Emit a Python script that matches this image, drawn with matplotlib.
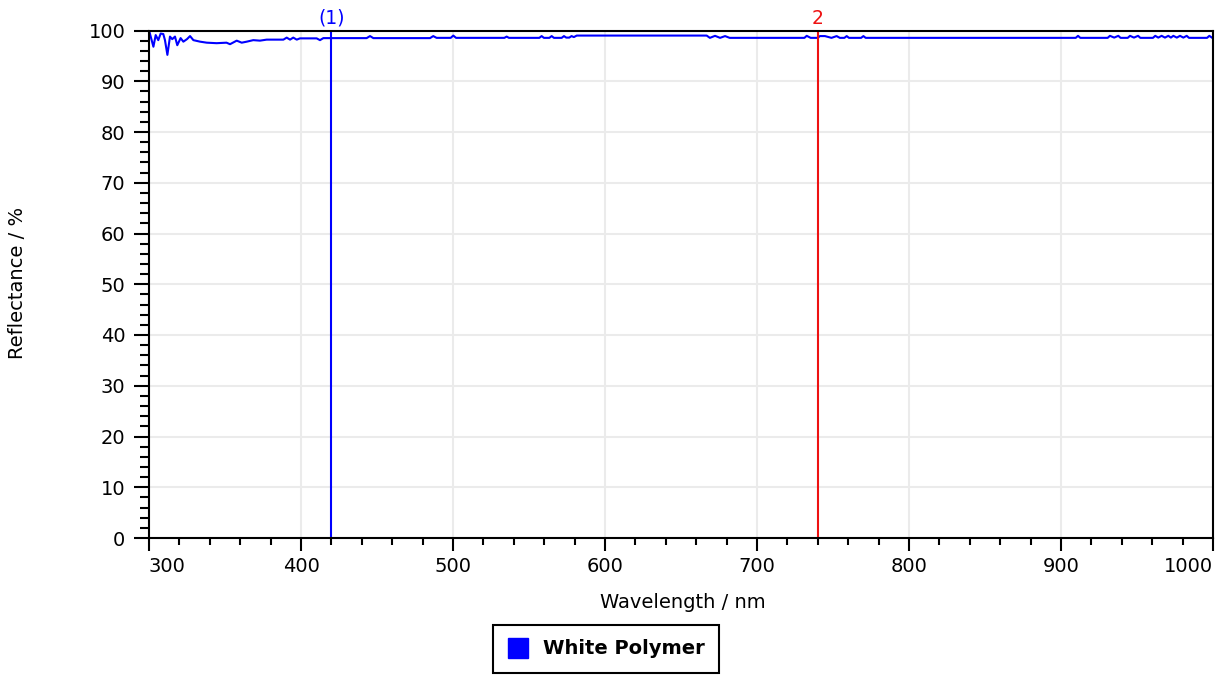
import matplotlib.pyplot as plt

# spectrum
wavelength = [
    300.5, 302.9, 304.4, 306.1, 307.7, 309.4, 310.5, 312.1, 313.8, 315.3,
    317.1, 318.6, 320.8, 322.6, 325.0, 327.0, 329.2, 333.6, 338.0, 344.5,
    351.0, 353.3, 357.7, 361.0, 364.3, 368.6, 373.0, 377.4, 388.4, 390.6,
    392.8, 394.9, 397.2, 399.3, 410.3, 412.5, 414.7, 443.2, 445.4, 447.6,
    484.9, 487.0, 489.2, 498.5, 500.2, 502.0, 533.8, 535.3, 536.8, 556.8,
    558.3, 559.8, 563.4, 564.9, 566.4, 571.5, 573.0, 574.5, 576.5, 578.0,
    579.5, 581.4, 666.9, 669.0, 672.4, 675.7, 679.0, 682.0, 731.2, 732.7,
    735.3, 739.9, 741.4, 744.7, 749.0, 752.4, 754.5, 757.5, 759.0, 760.5,
    768.5, 770.0, 771.5, 909.7, 911.2, 912.7, 930.7, 932.2, 935.0, 937.7,
    939.2, 943.9, 945.4, 948.0, 950.7, 952.2, 960.5, 962.0, 964.0, 966.2,
    968.4, 970.6, 972.3, 973.9, 976.2, 978.3, 980.5, 982.7, 984.2, 996.1,
    997.6, 999.5,
]
reflectance = [
    99.5, 96.8, 99.1, 98.1, 99.4, 99.3, 98.1, 95.2, 98.8, 98.3,
    98.8, 97.1, 98.5, 97.8, 98.3, 98.9, 98.1, 97.8, 97.6, 97.5,
    97.6, 97.3, 98.0, 97.6, 97.8, 98.1, 98.0, 98.2, 98.2, 98.6,
    98.2, 98.6, 98.2, 98.45, 98.45, 98.1, 98.5, 98.5, 98.9, 98.5,
    98.5, 98.9, 98.55, 98.55, 99.0, 98.55, 98.55, 98.8, 98.55, 98.55,
    98.9, 98.55, 98.55, 98.9, 98.55, 98.55, 98.9, 98.6, 98.6, 98.9,
    98.7, 99.0, 99.0, 98.55, 98.95, 98.55, 98.9, 98.55, 98.55, 98.95,
    98.55, 98.55, 98.9, 98.9, 98.55, 98.9, 98.55, 98.55, 98.9, 98.55,
    98.55, 98.9, 98.55, 98.55, 98.95, 98.55, 98.55, 98.95, 98.6, 98.95,
    98.55, 98.55, 98.95, 98.6, 98.95, 98.55, 98.55, 98.95, 98.6, 98.95,
    98.6, 98.95, 98.6, 98.95, 98.6, 98.95, 98.6, 98.95, 98.55, 98.55,
    98.95, 98.55,
]

markers = [420, 740]
marker_labels = ["(1)", "2"]
marker_colors = ["#0000ff", "#ee1111"]

x_ticks = [300, 400, 500, 600, 700, 800, 900, 1000]
y_ticks = [0, 10, 20, 30, 40, 50, 60, 70, 80, 90, 100]

plt.rcParams['font.family'] = ['DejaVu Sans']

fig = plt.figure(figsize=(12.19, 6.77), dpi=100)
ax = fig.add_axes([149 / 1219, 1 - 538 / 677, (1213 - 149) / 1219, (538 - 30.5) / 677])

ax.plot(wavelength, reflectance, color="#0000ff", linewidth=1.5, label="White Polymer")

for xm, lab, col in zip(markers, marker_labels, marker_colors):
    ax.axvline(xm, color=col, linewidth=1.5)
    ax.text(xm, 100.5, lab, color=col, ha="center", va="bottom", fontsize=13.5)

ax.set_xlim(300, 1000)
ax.set_ylim(0, 100)
ax.set_xticks(x_ticks)
ax.set_xticks(range(300, 1001, 20), minor=True)
ax.set_yticks(y_ticks)
ax.set_yticks(range(0, 101, 2), minor=True)

ax.grid(True, which="major", color="#ebebeb", linewidth=1.5)
ax.set_axisbelow(True)

for s in ax.spines.values():
    s.set_linewidth(1.5)

ax.tick_params(axis="y", which="major", length=11, width=1.5, pad=6, labelsize=14)
ax.tick_params(axis="y", which="minor", length=6.5, width=1.5)
ax.tick_params(axis="x", which="major", length=9.5, width=1.5, pad=4, labelsize=14)
ax.tick_params(axis="x", which="minor", length=5, width=1.5)

labels = ax.get_xticklabels()
labels[0].set_horizontalalignment("left")
labels[-1].set_horizontalalignment("right")

ax.set_xlabel("Wavelength / nm", fontsize=14)
ax.set_ylabel("Reflectance / %", fontsize=14)
ax.xaxis.set_label_coords((683 - 149) / 1064, (538 - 603) / 507.5)
ax.yaxis.set_label_coords((18 - 149) / 1064, (538 - 283) / 507.5)
ax.xaxis.label.set_verticalalignment("center")
ax.yaxis.label.set_verticalalignment("center")

handle = plt.Line2D([], [], color="#0000ff", marker="s", linestyle="none", markersize=15)
leg = fig.legend([handle], ["White Polymer"], loc="center",
                 bbox_to_anchor=(606 / 1219, 1 - 649 / 677),
                 prop={"weight": "bold", "size": 14}, fancybox=False,
                 edgecolor="black", framealpha=1, borderpad=0.75,
                 handlelength=1.1, handletextpad=0.7, borderaxespad=0)
leg.get_frame().set_linewidth(1.5)

fig.savefig("out.png", dpi=100)
